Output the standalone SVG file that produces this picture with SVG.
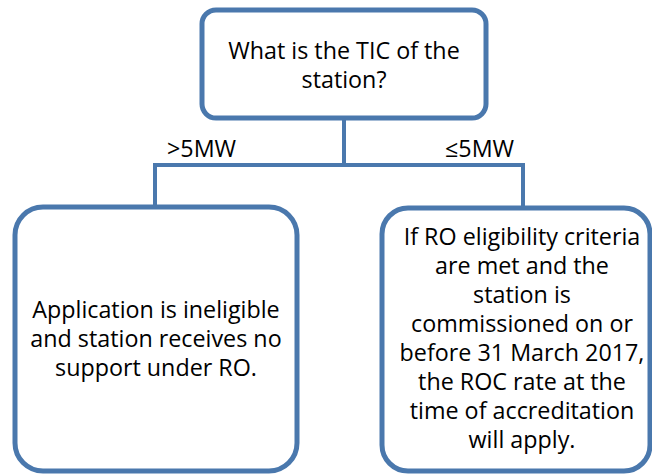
<svg xmlns="http://www.w3.org/2000/svg" width="652" height="474" viewBox="0 0 652 474">
<style>
.box{fill:#ffffff;stroke:#4a78ad;stroke-width:5}
.con{fill:none;stroke:#4a78ad;stroke-width:4}
text{font-family:"Open Sans","Liberation Sans",sans-serif;font-size:23.3px;fill:#000;text-anchor:middle}
.lbl{text-anchor:start}
</style>
<rect width="652" height="474" fill="#ffffff"/>
<g id="connectors">
<path class="con" d="M344 118 V165 M155 207 V165 H523 V208"/>
<text class="lbl" x="167" y="157">&gt;5MW</text>
<text class="lbl" x="445" y="157">≤5MW</text>
</g>
<g id="node-question">
<rect class="box" x="202" y="10" width="284" height="108" rx="14"/>
<text x="344" y="59">What is the TIC of the</text>
<text x="344" y="88">station?</text>
</g>
<g id="node-ineligible">
<rect class="box" x="15" y="207" width="282" height="264" rx="28"/>
<text x="156" y="318">Application is ineligible</text>
<text x="156" y="347">and station receives no</text>
<text x="156" y="376">support under RO.</text>
</g>
<g id="node-eligible">
<rect class="box" x="382" y="208" width="268" height="263" rx="26"/>
<text x="522" y="245">If RO eligibility criteria</text>
<text x="522" y="274">are met and the</text>
<text x="522" y="303">station is</text>
<text x="522" y="332">commissioned on or</text>
<text x="522" y="361">before 31 March 2017,</text>
<text x="522" y="390">the ROC rate at the</text>
<text x="522" y="419">time of accreditation</text>
<text x="522" y="448">will apply.</text>
</g>
</svg>
